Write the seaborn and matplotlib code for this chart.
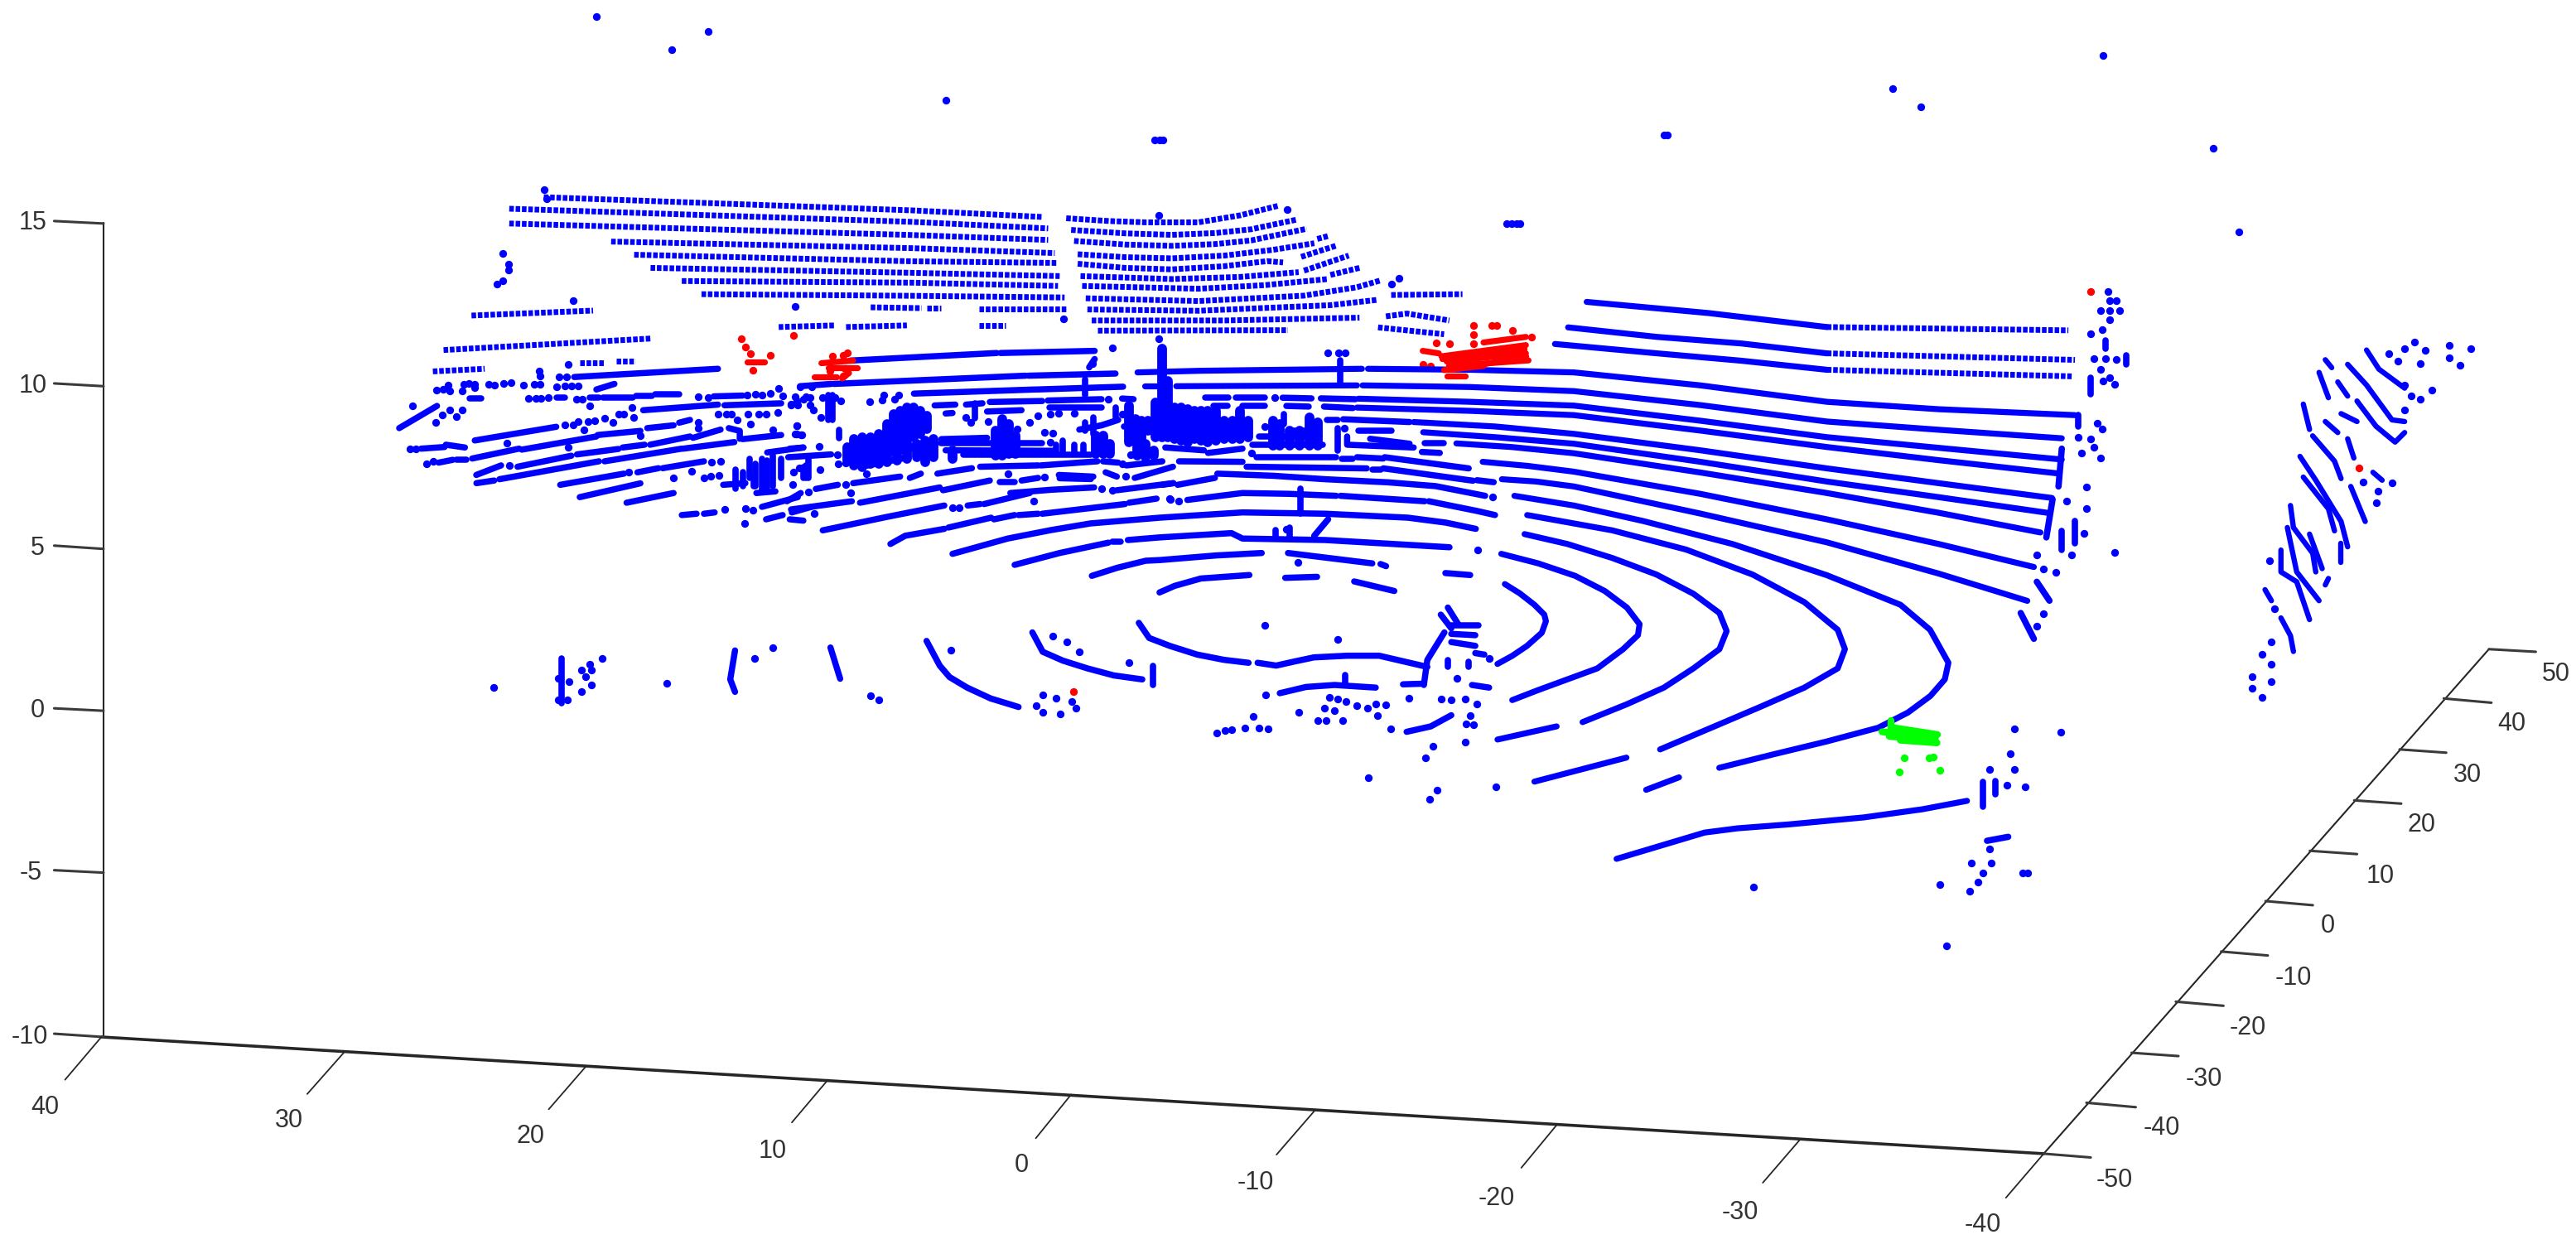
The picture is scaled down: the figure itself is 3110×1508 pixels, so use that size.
import matplotlib
matplotlib.use('Agg')
import matplotlib.pyplot as plt
import pandas as pd
import seaborn as sns

BLUE = '#0000ff'
RED = '#ff0000'
GREEN = '#00ff00'
DARK = '#262626'

# rows of the far fan, drawn dotted
fan_rows = [
    [(331, 120), (555, 128), (634, 132)],
    [(310, 127), (555, 135), (638, 139)],
    [(310, 136), (555, 143), (638, 146)],
    [(372, 147), (555, 151), (642, 154)],
    [(386, 155), (555, 159), (643, 160)],
    [(396, 163), (555, 166), (645, 168)],
    [(415, 171), (555, 172), (644, 174)],
    [(427, 179), (555, 180), (648, 181)],
    [(530, 187), (561, 187.5)], [(564, 187.5), (573, 187.5)], [(596, 188), (649, 188)],
    [(474, 199), (508, 198)], [(515, 199), (552, 198)], [(596, 198), (612, 198)],
    [(287, 192), (361, 189)],
    [(270, 213), (396, 206)],
    [(649, 132.8), (675, 134.5), (697.3, 135.3), (729.4, 135.3), (755, 131), (777.7, 125.3)],
    [(652, 139.9), (685, 142), (713.3, 142.9), (740, 141.8), (761.6, 139.5), (789, 133.7)],
    [(653.8, 146.6), (685, 148.8), (713.3, 149.6), (740, 148.5), (761.6, 146.3), (795.4, 139.2)],
    [(801.8, 145.4), (808.2, 143.7)],
    [(656, 154.7), (685, 156.5), (713.3, 157.2), (745.5, 155.5), (775, 152), (800, 148)],
    [(792, 156.3), (813, 149.6)],
    [(656, 160.5), (685, 163), (713.3, 163.9), (745, 162), (771.2, 158.9), (781, 159.7)],
    [(793.7, 164.7), (821, 155.5)],
    [(657.7, 168), (713.3, 169.8), (755, 168.5), (790.5, 165.6)],
    [(809.8, 167.3), (827.5, 163)],
    [(658.7, 174), (729.4, 175.7), (770, 173.5), (808.2, 169.8)],
    [(660.9, 181.5), (729.4, 183.2), (793.7, 179.9), (825.9, 174.8), (840.4, 170.6)],
    [(661.9, 188.3), (729.4, 189.1), (809.8, 185.7), (838.8, 182.4)],
    [(664.5, 195), (745.5, 195), (827.5, 193.3)],
    [(668.3, 201.2), (784, 200.9)],
    [(846.8, 179.5), (890.2, 179)],
    [(843.6, 192.5), (856.4, 190.8), (882.2, 195)],
    [(838.8, 199.2), (879, 203.4)],
    [(263.5, 226), (295, 224.4)],
    [(353, 220.7), (368, 220.7)], [(375, 219.5), (386.5, 219.5)],
    [(1112, 199), (1259, 201)],
    [(1112, 215), (1263, 219)],
    [(1112, 225), (1261, 229)],
]

# long ground returns on the right half, and the closed rings
right_rows = [
    [(965.8, 183.7), (1040, 190.5), (1112, 199)],
    [(954.5, 199.2), (1008.6, 205), (1060, 209), (1112, 215)],
    [(946.5, 209.3), (1008.6, 215), (1060, 219.5), (1112, 225)],
    [(692.4, 226.6), (731, 225.6), (829, 224.4)],
    [(832.7, 224.4), (895, 225), (958, 226.6), (1035, 234.5), (1112, 244.5), (1180, 249), (1263, 252.6)],
    [(716, 235), (826, 234.5)], [(696.6, 235), (704, 235)],
    [(829.4, 234.5), (895, 235.5), (958, 238), (1035, 246.5), (1112, 256.5), (1180, 261.5), (1255, 266.7)],
    [(826.9, 242.6), (895, 244.5), (958, 246.8), (1035, 256), (1112, 266), (1180, 272.5), (1255, 279.6)],
    [(826, 248), (895, 250), (958, 252.6), (1035, 262), (1112, 272), (1180, 280), (1252, 288)],
    [(860.5, 256.8), (910, 259.5), (958, 264), (1035, 274), (1112, 285), (1180, 294), (1249, 303)],
    [(866.3, 263), (910, 266), (958, 270), (1035, 281), (1112, 293), (1180, 302.5), (1246, 312)],
    [(886.5, 269.8), (920, 272), (958, 275.8), (1035, 287.5), (1112, 300), (1180, 312), (1242, 324)],
    [(902.5, 281), (930, 283.5), (958, 287), (1035, 300.5), (1112, 316), (1180, 331), (1238, 345)],
    [(914.2, 291.6), (935, 293), (958, 296), (1035, 312.5), (1112, 330), (1180, 349), (1234, 365.6)],
]
rings = [
    [(916, 355.4), (925, 361), (934, 368), (940, 374), (941, 378), (938.5, 385), (929.5, 393), (920.6, 399), (911.5, 404)],
    [(913.8, 337), (936.3, 342.8), (958.8, 350.4), (976.8, 359.6), (990.3, 369.7), (998, 379.8), (997, 386.5), (988, 395),
     (972.3, 406.7), (954, 413.4), (936, 420), (920.5, 426)],
    [(928, 325), (954, 331), (981.3, 339.5), (1008.3, 349.6), (1030.8, 361.3), (1046.6, 373), (1051, 384), (1046.6, 395),
     (1030.8, 406.7), (1012.8, 418.4), (990.3, 428.5), (963.3, 439.4)],
    [(947.5, 442), (911.5, 450)],
    [(929.6, 313.4), (981.3, 322.7), (1026.3, 334.4), (1066.8, 349.6), (1098.3, 366.4), (1118.6, 383.2), (1123, 395),
     (1118.6, 406.7), (1098.3, 418.4), (1071.3, 430.2), (1039.8, 443.6), (1010.5, 456)],
    [(990, 461), (934, 475.6)],
    [(921.8, 301.7), (958, 307.6), (1000, 317), (1054.5, 331), (1112, 350), (1156.8, 368), (1174.8, 383.2), (1186, 403.3),
     (1183.8, 413.4), (1175, 423.5), (1161.3, 433.6), (1143.3, 442.8), (1111.8, 451.2), (1080.3, 458.8), (1046.5, 467.2)],
    [(1022, 473), (1002, 480.6)],
    [(984, 522.6), (1003.8, 516.7), (1037.6, 506.6), (1057.8, 504), (1089.3, 501.6), (1134.3, 497.4), (1170.3, 492.4), (1197.3, 487.3)],
]

# arcs in front of the buildings
front_arcs = [
    [(517.6, 219.4), (606.7, 214.8)], [(609, 214.8), (666.3, 213.5)],
    [(487, 235), (506, 233.6)], [(507.6, 233.6), (624.3, 228.6)], [(626, 228.6), (679, 227.3)],
    [(556.3, 239.5), (630, 237)], [(631, 237), (683.6, 235.3)],
    [(349.5, 229.4), (437, 224.4)],
    [(637.8, 243.7), (670.5, 242.9)], [(683, 242.5), (690, 242.9)], [(602.5, 244.6), (634.4, 244)],
    [(588, 246.2), (598, 245.4)], [(568.9, 246.7), (581.5, 246.2)], [(575.6, 251.6), (579.8, 251.3)],
    [(600.8, 250.4), (621.8, 249.6)], [(638.6, 248), (670.5, 248)],
    [(733.6, 242), (747.9, 242)], [(752, 242), (769.7, 242)], [(780.7, 242), (798.3, 242.4)], [(804, 242.4), (825, 242.9)],
    [(738.7, 247), (747, 247)], [(756.3, 247), (769.7, 247)], [(783, 247), (796.6, 247.4)], [(805.9, 247.4), (823.5, 248.3)],
    [(817.6, 255.1), (858, 256.8)], [(807.5, 255.5), (814.3, 255.5)],
    [(826.9, 262.2), (847, 262.2)], [(867.2, 269.8), (879, 269.8)], [(865.5, 275), (876.4, 275.6)],
    [(820, 265.6), (820, 270.6), (860.5, 272.3)], [(834, 267), (858, 270)],
    [(709.3, 272.3), (732.8, 274)], [(735.3, 275.6), (756.3, 273)], [(764.7, 278.2), (813.4, 278.2)],
    [(816.8, 279), (823.5, 279)], [(826, 278.2), (842, 279)], [(842.8, 278.2), (894, 285)],
    [(717.7, 280.7), (756.3, 281)], [(758.8, 284), (831.9, 285)], [(835.3, 285.8), (840.3, 285.8)],
    [(842, 285), (896.6, 292.5)], [(899, 292.2), (909.2, 293.4)],
    [(741, 288.2), (775, 289.5), (806.7, 291.6), (845, 293.5), (873.9, 295.8), (904, 301.7)],
    [(707.6, 295), (714.3, 294)], [(716.8, 295), (739.5, 290.8)],
    [(722.7, 304.2), (756.3, 300), (785, 300.5), (813.4, 301.7)], [(816, 301.7), (867.2, 305)],
    [(869.7, 305), (899, 310.9), (910, 313.4)],
    [(579.8, 337), (613.4, 327.7), (640, 322.5), (663.8, 318.5), (705.9, 315), (756.3, 311.8), (806.7, 312.6), (857, 315), (880, 318), (898.3, 321.8)],
    [(617.6, 343.7), (645, 336.5), (674.7, 330.2)], [(677, 329.4), (682.3, 329.4)],
    [(686.5, 328.6), (705.9, 327), (749.6, 324.4), (756.3, 327.7), (806.7, 328.6), (882.3, 333)],
    [(664.6, 350.4), (680, 345.5), (697.4, 341.2), (705.9, 340.8), (740, 338), (768, 336.5)],
    [(784, 336.5), (815, 340.3), (835.3, 342.8)], [(840.3, 343.2), (843.7, 344.5)],
    [(705.8, 360.5), (715, 356.5), (731, 352), (760.5, 349.9)], [(782.3, 351.6), (801.7, 351)],
    [(824.3, 353.8), (848.7, 359.6)], [(879.8, 348.7), (894.9, 349.9)],
    [(500.8, 322.7), (540, 314.5), (574.8, 307.6)], [(589, 307.6), (596.6, 306.7)], [(599, 306.7), (626.8, 300)],
    [(615, 300), (640, 298), (666, 296.6)], [(679.8, 298.3), (714, 294)],
    [(523.5, 305.9), (572, 296.6)], [(574, 298.3), (602.5, 292.4)], [(608.4, 293.3), (617.6, 293.3)],
    [(621.8, 292.4), (631.9, 290.8)], [(644.5, 289), (665.5, 290)], [(645, 291), (664, 291.5)],
    [(496.6, 297.5), (510, 295)], [(519.3, 294), (547.9, 290)], [(553.8, 290.8), (560.5, 288.2)],
    [(570.6, 288.2), (591.6, 284.9)],
    [(596.6, 284), (631.9, 283.2)], [(633.6, 283.2), (668, 280.7)],
    [(671.4, 280.7), (680.6, 281.5)], [(685.6, 283.2), (707.5, 280.7)],
    [(673, 287.4), (679.8, 290)], [(690.7, 290.8), (714, 284)],
    [(481.5, 310), (518.5, 305)], [(480.7, 316), (489, 316.8)], [(479, 305), (487.4, 300)],
    [(479.8, 278.2), (505.9, 276.5)], [(480.7, 273), (489, 272.3)],
    [(542, 331), (551, 326), (574.8, 321.8)], [(577.3, 321), (603.3, 315)], [(605, 316), (617.6, 313.4)],
    [(620, 313.4), (631.9, 312.6)], [(634.4, 312.6), (684.8, 306.7)], [(687.3, 305.9), (704, 303.4)],
    [(573, 267.2), (600.8, 266.4)], [(573, 269.8), (634.4, 269.8)], [(575.6, 274), (641, 274.3)], [(586.5, 276.5), (663.8, 276.5)],
    [(524.4, 284), (553, 278.2)], [(526, 279), (558, 272.3)], [(529.4, 274), (569.7, 269.8)],
    [(762.2, 270.6), (805, 270.6)], [(766.4, 265.6), (803.3, 265.6)], [(784, 262.2), (798.3, 262.2)],
    [(289, 268), (338.6, 259.7)], [(243, 260.5), (266, 247)], [(256.3, 273), (270.6, 272)], [(271.4, 270.6), (283, 272.3)],
    [(391.5, 249.6), (437, 246.2)], [(441, 246.6), (475.5, 245.4)], [(434.4, 241.2), (452, 240.7)],
    [(367, 242), (385, 242)], [(387.3, 241), (396.6, 241)], [(399, 239.9), (413.4, 239.9)],
    [(394, 260.5), (410, 258.8)], [(413.4, 257.2), (420, 255.5)],
    [(363.8, 264.7), (389.8, 262.2)], [(287.4, 279), (316, 273)], [(317.6, 273.6), (363, 265.6)],
    [(267, 281.5), (275.6, 279.8)], [(278, 279.8), (284, 279.8)], [(289.9, 289), (305, 283.2)],
    [(315, 284), (347.8, 277.3)], [(351.2, 276.5), (376.4, 273.2)], [(379, 272.3), (392.4, 270.6)],
    [(395.7, 270.6), (420, 265.6)], [(421.8, 266.4), (438.6, 261.4)], [(415.9, 273), (447, 269)],
    [(304, 291.6), (364.6, 280.7)], [(368, 280.7), (415, 273)], [(290, 294), (300.8, 292.4)],
    [(341, 295), (379.8, 288.2)], [(388, 287.4), (400.8, 284.9)], [(403.3, 284.9), (428.5, 280.7)],
    [(352.9, 302.5), (389.8, 294.1)], [(381.4, 305.9), (410, 300)],
    [(415, 313.4), (424, 312.6)], [(428.5, 312.6), (435, 311.8)],
    [(463.8, 308.4), (485.6, 302.5)], [(466.3, 316), (476.4, 313.4)], [(482, 311.8), (494, 308.4)],
    [(363, 237), (374, 233.6)], [(285.7, 242.5), (293, 242.5)], [(358.8, 242), (364.6, 242)], [(338.6, 242), (343.6, 242)],
    [(467, 275.3), (489, 272.3)], [(440.2, 295), (453.7, 294)], [(460.4, 300), (472, 299)],
    [(452, 267.2), (475.5, 264.7)], [(443.6, 260.5), (450.3, 262.2), (450.3, 267)],
    # low arcs, lower left
    [(447.4, 395.8), (444.5, 413.4), (447.4, 421)],
    [(505.5, 394), (511.4, 413)],
    [(564, 390), (572, 405), (578, 412), (588.7, 418.4), (603, 425), (620, 430.2)],
    [(628.4, 384.8), (634.7, 396.6), (647, 402), (661.9, 406.7), (678, 411), (695.3, 413.4)],
    [(693.2, 379), (699.5, 388.2), (712, 393), (728.7, 398.3), (745, 401.5), (760, 403.3)],
    [(765.5, 403.3), (776.8, 405), (788, 402.5), (799.8, 400), (820, 399), (839.5, 399), (868.8, 405.8)],
    [(779, 421.8), (795, 418), (812.3, 416.8), (837.4, 418.4)],
    [(856.2, 445.3), (870.9, 442), (883.4, 435.2)],
    [(854, 416.4), (866.7, 416)], [(896, 416.8), (906.4, 418.4)],
    [(881.3, 369.7), (887.6, 379.8)], [(877, 374), (883.4, 382.3)],
    [(883.4, 380.6), (900, 380.6)], [(883.4, 385.7), (898, 386.5)], [(883.4, 390.7), (898, 393)],
    [(879.2, 384.8), (868.8, 401.6), (866.7, 416.8)], [(898, 397.4), (903.5, 398.3)],
]

# solid masses of returns in the middle: buildings and the tall pole
mass_stacks = [
    [(540, 258), (540, 268)], [(544, 252), (544, 270)], [(548, 250), (548, 270)], [(552, 248), (552, 268)],
    [(556, 248), (556, 266)], [(560, 250), (560, 264)], [(564, 253), (564, 261)],
    [(516, 272), (516, 280)], [(520, 267), (520, 283)], [(525, 266), (525, 284)], [(530, 266), (530, 282)],
    [(535, 264), (535, 282)], [(540, 268), (540, 281)], [(546, 270), (546, 280)], [(552, 270), (552, 279)],
    [(558, 270), (558, 278)], [(563, 268), (563, 281)], [(568, 267), (568, 278)], [(579.8, 274), (579.8, 279)],
    [(606, 262), (606, 277)], [(610, 255), (610, 277)], [(614, 258), (614, 276)], [(618, 265), (618, 276)],
    [(667, 265), (667, 276)], [(671.4, 265), (671.4, 276)], [(675.6, 270), (675.6, 276)],
    [(687.3, 247), (687.3, 269)], [(691, 255), (691, 269)], [(695, 256), (695, 269)], [(699, 256), (699, 262)],
    [(692.4, 272), (692.4, 277)], [(697.4, 270), (697.4, 278)], [(702.4, 274), (702.4, 277)],
    [(703.3, 245), (703.3, 266)], [(707.5, 212), (707.5, 266)], [(711, 232), (711, 266)],
    [(715, 248), (715, 267)], [(719, 248), (719, 268)], [(723, 249), (723, 269)], [(727, 250), (727, 267)],
    [(731, 250), (731, 268)], [(735, 250), (735, 269)], [(740, 250), (740, 268)], [(745, 256), (745, 267)],
    [(750, 256), (750, 267)], [(755, 250), (755, 267)], [(760, 256), (760, 266)],
    [(775, 256), (775, 271)], [(779, 258), (779, 271)], [(785, 262), (785, 271)], [(791, 262), (791, 271)],
    [(797, 254), (797, 271)], [(802, 257), (802, 271)],
]

# thinner stacks and short strokes
stacks = [
    [(456.2, 279), (456.2, 290.8)], [(463.8, 279), (463.8, 299)], [(470.5, 277.3), (470.5, 295.8)],
    [(475.5, 279), (475.5, 290.8)], [(447.8, 285.7), (447.8, 297.5)], [(452, 287.4), (452, 295.8)],
    [(458.7, 290.8), (458.7, 295.8)], [(489, 284), (489, 290.8)], [(492, 279), (492, 290.8)],
    [(460, 282), (460, 296)], [(467, 280), (467, 297)],
    [(504.2, 240.4), (504.2, 255.5)], [(506.7, 240.4), (506.7, 255.5)], [(510.6, 261.4), (510.6, 266.4)],
    [(490.8, 283.2), (490.8, 290.8)],
    [(593.2, 245.4), (593.2, 254.6)],
    [(642.8, 270.6), (642.8, 275.6)], [(647, 268), (647, 274.8)], [(653.7, 270.6), (653.7, 275.6)], [(659.6, 270.6), (659.6, 275.6)],
    [(657, 261.4), (670.5, 258.8), (680.6, 255.5)], [(665.5, 253.8), (665.5, 263.9)], [(660.4, 257), (660.4, 262.2)],
    [(678.9, 248), (678.9, 253.8)], [(684, 259.7), (699, 259.7)],
    [(781.5, 252), (781.5, 258)], [(814.3, 260.5), (814.3, 274)],
    [(663, 223.5), (666.3, 218.5)], [(660.4, 231), (660.4, 240.4)],
    [(791.6, 297.5), (791.6, 312.6)], [(808.4, 316), (800, 326)], [(776.5, 322.7), (776.5, 327.7)], [(784.9, 321), (784.9, 327.7)],
    [(815.6, 219.3), (815.6, 233.6)], [(818.6, 410.9), (818.6, 416.8)], [(701.6, 405), (701.6, 416.8)],
    [(342, 400.8), (342, 427.7)], [(881.3, 401.6), (881.3, 405.8)], [(893.9, 402.5), (893.9, 405.8)],
    [(1281.5, 207.3), (1281.5, 212)], [(1294, 216), (1294, 221.7)], [(1272.6, 230), (1272.6, 240)],
    [(1265, 252.6), (1265, 259.4)], [(1255, 273), (1253, 296)], [(1249.4, 303.8), (1245.6, 327)],
    [(1255, 323), (1255, 334.6)], [(1263, 317), (1263, 330.8)], [(1239.8, 354), (1247.5, 365.5)],
    [(1230, 373), (1238, 388.7)], [(1214.7, 475), (1214.7, 483.5)], [(1207, 476), (1207, 490.8)],
    [(1209.5, 511.6), (1222.4, 509.2)],
]

# the building on the far right
side_wall = [
    [(1440.5, 213), (1448, 224.6), (1463.7, 236.2)],
    [(1429, 221.7), (1440.5, 234.3), (1456, 255.5), (1463.7, 256.5)],
    [(1411.6, 226.6), (1417.3, 242)], [(1415.4, 218.9), (1419.3, 223.7)], [(1423, 232.4), (1429, 241)],
    [(1434.7, 244), (1446.3, 259.4), (1457.9, 269), (1463.7, 263.2)],
    [(1402, 245.9), (1405.8, 261.3)], [(1425, 251.7), (1434.7, 256.5)], [(1415.4, 256.5), (1423, 263.2)],
    [(1407.7, 265.2), (1421, 280.6), (1425, 291.2)], [(1429, 267), (1432.8, 278.7)],
    [(1400, 277.7), (1409.6, 292.2), (1425, 317.3), (1429, 332.7)],
    [(1402, 290.3), (1417.3, 309.6), (1421, 323)],
    [(1430.9, 296), (1439.7, 317.3)], [(1444.4, 287.4), (1450, 292.2)],
    [(1394.2, 307.6), (1396, 321), (1407.7, 336.6), (1409.6, 348)],
    [(1392.3, 321), (1398, 348), (1411.6, 365.5)],
    [(1405.8, 325), (1413.5, 346)], [(1425, 330.8), (1425, 342.4)], [(1417.3, 352), (1415.4, 355.9)],
    [(1388.4, 334.7), (1388.4, 348), (1398, 354), (1405.8, 377)],
    [(1378.7, 358.8), (1382.6, 365.5)],
    [(1388.4, 376), (1394.2, 386.8), (1396, 396.4)],
]

blue_points = [
    (363, 10), (409, 30), (431, 19), (576, 61), (703, 85), (706, 85), (708, 85), (1013, 82), (1015, 82), (1152, 54), (1169, 65),
    (1280, 34), (1347, 90), (1363, 141), (917, 136), (920, 136), (923, 136), (925, 136),
    (306.2, 154.2), (309.8, 161), (309.8, 164.5), (302.7, 173.1), (306, 171), (348.7, 182.7), (331, 115.2), (332.8, 121), (484, 186.6),
    (647.4, 194), (705.3, 130.8), (783.4, 127.4), (846.8, 173), (851.6, 169.5), (705.3, 206.2), (665, 221), (677, 211.8),
    (808.2, 214.6), (815, 214.6), (819, 214.6), (346, 221.5), (328, 226),
    (265.5, 237.5), (269.7, 237), (273, 234.5), (274, 237.8), (281.5, 237.8), (282.3, 233.6), (285.3, 233.3), (289, 233.6), (289, 236),
    (297.4, 233.6), (300.8, 234.5), (306.7, 233.3), (310.9, 232.8), (318.4, 234.5), (325, 233.6), (328.5, 233.6), (328.5, 228.6),
    (340.3, 229.4), (344.8, 229.4), (338.6, 235.3), (343.6, 235), (347.8, 235), (352, 235),
    (321.8, 242.5), (326, 242.5), (329.4, 242.5), (333.6, 242), (351, 243), (354.6, 243), (358.8, 247),
    (251, 246.7), (265, 256.8), (269, 252.6), (274, 249.3), (277.6, 253.5), (281.5, 249.3), (249.6, 273), (253, 273),
    (343.6, 258.5), (348.7, 258.5), (352, 256.3), (358, 256.3), (355.4, 261.4), (362, 255.8), (368, 254.5), (376.4, 252), (373, 257),
    (379.8, 252), (384.8, 248), (385.6, 253.8), (437, 252), (442, 252), (425, 241.2), (431, 241.7),
    (455, 240.4), (460, 240), (463.8, 240.4), (468.8, 239.5), (473.8, 236.2), (476.7, 240.7), (481.4, 246.2),
    (484.8, 243.7), (489, 243), (493, 242), (485.6, 246.2), (493, 246.2), (487, 235.3), (494, 235.3),
    (424.8, 257.2), (424.8, 260.5), (389.8, 265), (308.4, 269.8), (310, 283.2), (346, 272.3), (259.6, 282.4), (263.8, 280.7),
    (382.8, 287.4), (433, 281), (438.6, 280.7), (410, 291), (421, 286.6), (428.5, 290.8), (432.7, 290), (437.7, 289.1),
    (441.4, 310), (453.7, 309.2), (458.4, 310.6), (453.3, 318.5), (470.5, 261.4), (484.8, 258.8), (484.8, 264.2), (488, 264.7),
    (445.3, 252), (448.6, 255.5), (455.4, 251.8), (462, 251.8), (466.3, 251.8), (473.5, 250.8), (457, 258),
    (481.5, 246), (495.3, 249.6), (500.8, 242), (508.4, 242), (511.8, 243.7), (499.5, 254), (484.9, 258.8), (484, 264.2), (487.4, 264.7),
    (498.8, 271.4), (509.6, 276.5), (515, 281.5), (483, 287.4), (486.6, 284.9), (499, 285.7), (510, 282.4),
    (529.4, 244.6), (537, 243.5), (544.5, 242.9), (537.8, 240.4), (547, 240.4), (484, 241.2), (490.8, 241.2),
    (619.3, 260.9), (626.8, 256.8), (631.5, 253), (601.6, 256.3), (590.7, 257.2), (588, 253.8), (636, 263), (641, 263.5), (639.4, 269.3),
    (639.4, 251.8), (644.5, 251.3), (653.7, 251.3), (683, 252), (688, 276.5), (674.7, 242.9),
    (670.5, 297.5), (677, 298.3), (579.8, 308.9), (584, 308.9), (629.4, 305), (613.4, 288.2), (636, 290.4), (527.5, 288.2), (514.6, 295),
    (482.4, 295), (492, 299.2), (517.6, 300), (495.8, 312.6), (685.3, 290), (683, 282.4), (711.7, 303.4), (712.6, 303.9), (717.7, 305),
    (769.7, 259.7), (818.5, 260.5), (762, 275.6), (776, 242), (790, 342), (783, 322), (899.4, 334.4), (908.3, 302.5),
    (300.7, 418.4), (340, 412.6), (346.3, 415), (353.8, 407.5), (358.8, 404), (360, 407.5), (356.7, 411.7), (360, 416.8),
    (353.8, 421), (366.3, 400.8), (340, 426), (345.4, 426), (406, 416), (459.5, 400.5), (470.4, 394), (529.8, 423.5), (534.8, 426),
    (579, 395.8), (634.7, 423), (643, 424.8), (652.3, 426.8), (654.8, 431), (630.5, 429.4), (634.7, 433.2), (645.6, 434.4),
    (641, 387), (649.3, 390.7), (656.8, 396.6), (687, 403.3), (770, 380.6), (814.4, 389), (906.4, 400.8),
    (770.5, 423), (886.7, 413), (857.5, 425), (877.1, 425.5), (883.4, 426), (891.8, 425.5), (898.9, 428.5), (895, 435.2), (892.6, 440.3), (897, 440.8),
    (809, 424.3), (814.4, 425.5), (819.4, 426.8), (826, 429.4), (832.4, 431), (837.4, 428.5), (843.7, 428.9), (838.3, 435.2),
    (812.3, 432.2), (806, 430.7), (790.6, 433.6), (802, 438.3), (807, 438.6), (817.4, 438.6), (762.6, 436),
    (740.4, 445.8), (745.5, 444.5), (749.6, 444), (758, 442.8), (766.4, 442.8), (771.8, 443.3), (846.6, 443.6),
    (872, 454), (891.8, 451.7), (867.5, 461.3), (832.8, 473.4), (875, 481), (870, 486.5), (910.6, 479),
    (1283, 177.4), (1284, 183), (1288, 183), (1278.4, 189), (1284, 189), (1290, 189), (1284, 194.7), (1279.5, 200.5), (1272.6, 203),
    (1274.5, 218), (1281.5, 218), (1288, 218.9), (1278.4, 224.6), (1280, 232), (1284, 230), (1287, 234),
    (1276.5, 257.4), (1279.5, 261.3), (1265, 266), (1272.6, 267), (1266.8, 275.8), (1278.4, 278.7), (1274.5, 272),
    (1270, 296.4), (1258, 304.7), (1270, 309.6), (1268.7, 324.4), (1261, 337.6), (1287, 336.2), (1239.8, 337.6),
    (1243.6, 346.2), (1251.4, 348), (1243.6, 373.3), (1239.8, 381), (1226, 443.6), (1254.5, 445.5), (1223.4, 458.5), (1211, 468), (1226, 468),
    (1221.4, 478), (1232.8, 478.6), (1211, 516.5), (1200, 525), (1212, 525), (1207, 531), (1204, 536.8), (1199, 542.2),
    (1181, 538.5), (1234, 531), (1231, 531), (1067.6, 539.8), (1184.6, 575.3),
    (1438.6, 293.2), (1447.4, 299), (1456, 294), (1446.3, 305.7), (1381.4, 341.4), (1384.5, 370.4),
    (1382.6, 390.6), (1376.8, 398.3), (1382.6, 404), (1371, 411.8), (1382.6, 414.7), (1371, 418.6), (1376.8, 424.4),
    (1454, 215), (1463.7, 212), (1469.5, 208.2), (1476.4, 213.4), (1490.7, 210), (1490.7, 217.5), (1504, 212),
    (1459.8, 219.8), (1473.3, 221), (1497.2, 222.3), (1463.7, 234.3), (1480.3, 237.2), (1473.3, 243), (1467.5, 241), (1463.7, 249.7),
]

red_lines = [
    [(866, 213.5), (875.8, 215)], [(877.4, 216.8), (928.8, 210)], [(880.6, 220), (928.8, 215)], [(882, 222.7), (930.4, 219.3)],
    [(879, 225.2), (903, 222.7)], [(880.6, 228.6), (892, 228.6)], [(903, 208.4), (928.8, 205)],
    [(878, 218.5), (928, 212.5)], [(884, 225), (929, 217)],
    [(455, 220.2), (465.5, 220.2)],
    [(500, 221), (519.3, 219.4)], [(504.2, 223.6), (521.8, 223.6)], [(495.8, 229.4), (509.2, 229.4)], [(512.6, 230.3), (516.8, 227)],
]
red_points = [
    (874.2, 208.4), (882.2, 209.3), (896.8, 209.3), (896.8, 203.4), (896.8, 198.3), (907.9, 198.3), (911, 198.3), (920.8, 200.9), (932, 205),
    (866, 221.9), (870.9, 222.7), (451.4, 206), (453.8, 211), (456.7, 215), (469, 216), (458.4, 225.2), (483.2, 204.2),
    (513.4, 228.6), (514.3, 224.4), (506.7, 216.8), (516, 214.8), (513.4, 216), (505, 226),
    (1272.6, 177.4), (1435.9, 284.5), (653.5, 421),
]

green_lines = [
    [(1151, 438.6), (1151, 447)], [(1145.6, 445.3), (1165.8, 447)], [(1156.8, 450.4), (1179, 452)], [(1152.3, 442.8), (1179.3, 447)],
    [(1160, 447), (1178, 449.5)], [(1150, 448), (1172, 450)],
]
green_points = [(1159, 461.3), (1177, 460.4), (1174, 461.3), (1156, 469.7), (1180.7, 468.9)]

# axes box
z_axis = [(63, 135.5), (63, 631)]
x_axis = [(62, 631), (1244, 702)]
y_axis = [(1244, 702), (1515, 395)]
z_ticks = [[(33, 134.5), (63, 136)], [(33, 233.3), (63, 235)], [(33, 332), (63, 334)],
           [(33, 431), (63, 432.5)], [(33, 529.5), (63, 531)], [(33, 629), (63, 631)]]
x_ticks = [[(61.7, 631), (39.6, 657)], [(210, 639.7), (187, 665.7)], [(357, 648.5), (334, 675)], [(504, 657), (482, 683)],
           [(652, 666), (630.5, 692.6)], [(800.4, 675.6), (777, 702.6)], [(948, 684), (926, 710.6)],
           [(1095.6, 693.5), (1073, 719.7)], [(1244, 702), (1221, 728.8)]]
y_ticks = [[(1244, 702), (1272.6, 704.3)], [(1270, 671), (1300, 673.7)], [(1297.5, 640.6), (1326, 642.6)],
           [(1324.4, 609.5), (1353.4, 612)], [(1352, 579), (1380.4, 581.4)], [(1379, 548.3), (1407.8, 550.8)],
           [(1406, 517.7), (1434.7, 519.7)], [(1433, 487), (1461.6, 489)], [(1460.6, 456), (1489, 458)],
           [(1487.5, 425), (1516.5, 427.6)], [(1515, 395), (1543.5, 396.6)]]

z_labels = ['15', '10', '5', '0', '-5', '-10']
z_label_pos = [(20, 135.7), (20, 234.8), (23, 333.6), (23, 432.5), (19, 531), (18, 631)]
x_labels = ['40', '30', '20', '10', '0', '-10', '-20', '-30', '-40']
x_label_pos = [(27.5, 674), (176, 682), (323, 691.7), (470, 700.6), (622, 709), (764, 719.7), (910.7, 729.5), (1059, 738), (1207, 745.4)]
y_labels = ['-50', '-40', '-30', '-20', '-10', '0', '10', '20', '30', '40', '50']
y_label_pos = [(1287, 718), (1315.6, 686.6), (1341.5, 656.5), (1368.4, 625.5), (1396, 595), (1417, 563.5),
               (1448.7, 533), (1474, 502), (1502, 471.7), (1529, 440.6), (1556, 410)]


def to_frame(polylines):
    rows = []
    for seg, line in enumerate(polylines):
        for x, y in line:
            rows.append({'x': x, 'y': y, 'seg': seg})
    return pd.DataFrame(rows)


def draw_lines(ax, polylines, color, lw, **kw):
    sns.lineplot(data=to_frame(polylines), x='x', y='y', units='seg', estimator=None, sort=False,
                 color=color, linewidth=lw, legend=False, ax=ax, **kw)


def draw_points(ax, points, color, size):
    df = pd.DataFrame(points, columns=['x', 'y'])
    sns.scatterplot(data=df, x='x', y='y', color=color, s=size, linewidth=0, legend=False, ax=ax)


sns.set_style('white')
plt.rcParams['font.family'] = ['Liberation Sans']
plt.rcParams['lines.solid_capstyle'] = 'round'
plt.rcParams['lines.solid_joinstyle'] = 'round'

fig = plt.figure(figsize=(31.1, 15.08), dpi=100)
ax = fig.add_axes([0, 0, 1, 1])

# axes first, points on top
draw_lines(ax, [z_axis], DARK, 1.5)
draw_lines(ax, [x_axis], DARK, 2.6)
draw_lines(ax, [y_axis], DARK, 1.5)
draw_lines(ax, z_ticks, '#3a3a3a', 2.2)
draw_lines(ax, x_ticks, DARK, 1.3)
draw_lines(ax, y_ticks, '#3a3a3a', 2.2)

draw_lines(ax, fan_rows, BLUE, 5, linestyle=(0, (0.8, 0.3)))
draw_lines(ax, right_rows, BLUE, 5.2)
draw_lines(ax, rings, BLUE, 5.2)
draw_lines(ax, front_arcs, BLUE, 5.4)
draw_lines(ax, mass_stacks, BLUE, 8.5)
draw_lines(ax, stacks, BLUE, 5.5)
draw_lines(ax, side_wall, BLUE, 4.6)
draw_points(ax, blue_points, BLUE, 45)

draw_lines(ax, red_lines, RED, 5.2)
draw_points(ax, red_points, RED, 45)
draw_lines(ax, green_lines, GREEN, 6)
draw_points(ax, green_points, GREEN, 45)

for labels, positions in [(z_labels, z_label_pos), (x_labels, x_label_pos), (y_labels, y_label_pos)]:
    for label, (x, y) in zip(labels, positions):
        ax.text(x, y, label, ha='center', va='center', fontsize=22, color='#333333')

ax.set_xlim(0, 1568)
ax.set_ylim(760, 0)
ax.axis('off')
fig.savefig('out.png', dpi=100, facecolor='white')
